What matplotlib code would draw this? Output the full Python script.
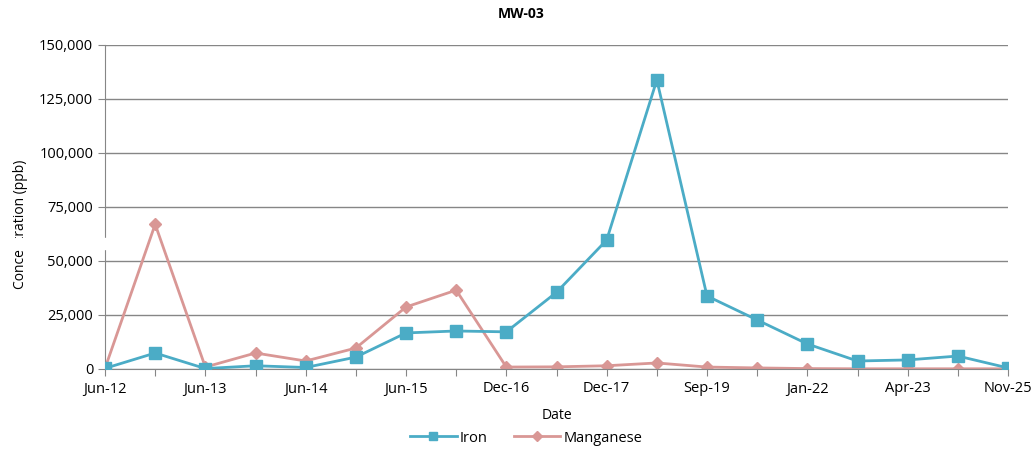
import matplotlib.pyplot as plt
from matplotlib.patches import Rectangle
from matplotlib.ticker import FuncFormatter

plt.rcParams['font.family'] = ['Open Sans', 'DejaVu Sans']

dates = ["Jun-12", "", "Jun-13", "", "Jun-14", "", "Jun-15", "", "Dec-16", "",
         "Dec-17", "", "Sep-19", "", "Jan-22", "", "Apr-23", "", "Nov-25"]
iron = [300, 7400, 200, 1500, 700, 5500, 16700, 17600, 17200, 35500,
        59700, 133800, 33800, 22700, 11600, 3700, 4200, 6000, 500]
manganese = [300, 67000, 900, 7400, 3700, 9700, 28700, 36500, 900, 1000,
             1500, 2800, 900, 500, 200, 100, 100, 100, 100]

x = list(range(len(dates)))

fig = plt.figure(figsize=(10.34, 4.5), dpi=100)
ax = fig.add_axes([105 / 1034, 1 - 369 / 450, 903 / 1034, 324 / 450])

ax.plot(x, iron, color="#4BACC6", lw=2, marker="s", ms=8, label="Iron", zorder=3)
ax.plot(x, manganese, color="#D99795", lw=2, marker="D", ms=6, label="Manganese", zorder=2)

ax.set_xlim(0, 18)
ax.set_ylim(0, 150000)
ax.set_yticks(range(0, 150001, 25000))
ax.yaxis.set_major_formatter(FuncFormatter(lambda v, p: f"{int(v):,}"))
ax.set_xticks(x)
ax.set_xticklabels(dates)
ax.grid(axis="y", color="#868686", lw=1)
ax.set_axisbelow(True)
for s in ["top", "right"]:
    ax.spines[s].set_visible(False)
for s in ["left", "bottom"]:
    ax.spines[s].set_color("#868686")
ax.tick_params(axis="both", colors="#868686", labelcolor="black", labelsize=10.5, length=5)
ax.tick_params(axis="x", pad=4)

fig.text(521 / 1034, 1 - 14 / 450, "MW-03", fontsize=10, fontweight="bold",
         ha="center", va="center")
ax.set_xlabel("Date", fontsize=10, labelpad=8)
fig.text(21 / 1034, 1 - 224 / 450, "Concentration (ppb)", fontsize=10,
         rotation=90, ha="center", va="center")

fig.legend(loc="center", bbox_to_anchor=(526 / 1034, 1 - 438 / 450), ncol=2,
           frameon=False, fontsize=10.5, handlelength=3.2, columnspacing=1.8,
           handletextpad=0.2, markerscale=0.8)

# white patch that hides part of the axis label and spine, as in the original
fig.patches.append(Rectangle((10 / 1034, 1 - 249 / 450), 100 / 1034, 11 / 450,
                             transform=fig.transFigure, color="white", zorder=10))

fig.savefig("out.png", dpi=100)
